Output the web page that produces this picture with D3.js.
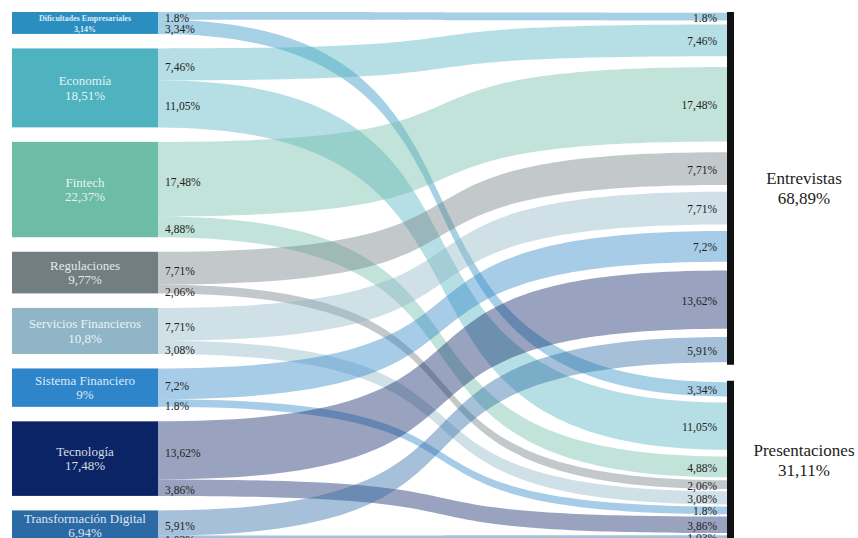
<!DOCTYPE html>
<html>
<head>
<meta charset="utf-8">
<script src="https://cdn.jsdelivr.net/npm/d3@7"></script>
<style>
  html, body { margin: 0; padding: 0; background: #fff; overflow: hidden; }
  svg { display: block; }
  text { font-family: "Liberation Serif", "Times New Roman", serif; }
</style>
</head>
<body>
<svg id="chart" width="858" height="538"></svg>
<script>
// Source categories (left column)
const categories = [
  "Dificultades Empresariales", "Economía", "Fintech", "Regulaciones",
  "Servicios Financieros", "Sistema Financiero", "Tecnología", "Transformación Digital"
];
const categoryShares = [3.14, 18.51, 22.37, 9.77, 10.8, 9, 17.48, 6.94];
const categoryColors = ["#2b8ec1", "#4fb3bf", "#6dbca6", "#717f83", "#8fb5c6", "#2e85c9", "#0b2466", "#2c6aa5"];

// Destination nodes (right column)
const targets = ["Entrevistas", "Presentaciones"];
const targetShares = [68.89, 31.11];

// Flow values per category, one array per destination
const entrevistas    = [1.8, 7.46, 17.48, 7.71, 7.71, 7.2, 13.62, 5.91];
const presentaciones = [3.34, 11.05, 4.88, 2.06, 3.08, 1.8, 3.86, 1.03];

const flows = [entrevistas, presentaciones];

const fmt = v => (v === 1.8 ? "1.8" : String(v).replace(".", ",")) + "%";
const serif = "'Liberation Serif', 'Times New Roman', serif";

const svg = d3.select("#chart");

const plotTop = 12, plotBottom = 540, H = plotBottom - plotTop;
const leftGap = 14.5, rightGap = 16;
const srcX0 = 12, srcX1 = 158, tgtX0 = 727, tgtX1 = 734;

const catTotals = categories.map((_, i) => d3.sum(flows, f => f[i]));
const total = d3.sum(catTotals);

// vertical scales: left column carries the link thickness, right column spreads slots
const yL = d3.scaleLinear().domain([0, total]).range([0, H - (categories.length - 1) * leftGap]);
const yR = d3.scaleLinear().domain([0, total]).range([0, H - (targets.length - 1) * rightGap]);

// left node positions
const srcNodes = [];
let acc = 0;
categories.forEach((name, i) => {
  const y0 = plotTop + yL(acc) + i * leftGap;
  const y1 = y0 + yL(catTotals[i]);
  srcNodes.push({ name, share: categoryShares[i], color: categoryColors[i], y0, y1 });
  acc += catTotals[i];
});

// right node positions
const tgtNodes = [];
acc = 0;
targets.forEach((name, j) => {
  const sum = d3.sum(flows[j]);
  const y0 = plotTop + yR(acc) + j * rightGap;
  tgtNodes.push({ name, share: targetShares[j], y0, y1: y0 + yR(sum) });
  acc += sum;
});

// links: stacked inside the source node, centred in a slot of the target node
const links = [];
categories.forEach((_, i) => {
  let off = srcNodes[i].y0;
  flows.forEach((f, j) => {
    const v = f[i];
    const w = yL(v);
    const sy0 = off, sy1 = off + w;
    off += w;
    const slotStart = tgtNodes[j].y0 + yR(d3.sum(f.slice(0, i)));
    const mid = slotStart + yR(v) / 2;
    links.push({ i, j, v, sy0, sy1, ty0: mid - w / 2, ty1: mid + w / 2, color: categoryColors[i] });
  });
});

function band(d) {
  const dx = tgtX0 - srcX1;
  const c1 = srcX1 + dx * 0.7, c2 = srcX1 + dx * 0.3;
  const p = d3.path();
  p.moveTo(srcX1, d.sy0);
  p.bezierCurveTo(c1, d.sy0, c2, d.ty0, tgtX0, d.ty0);
  p.lineTo(tgtX0, d.ty1);
  p.bezierCurveTo(c2, d.ty1, c1, d.sy1, srcX1, d.sy1);
  p.closePath();
  return p.toString();
}

svg.append("g")
  .selectAll("path")
  .data(links)
  .join("path")
  .attr("d", band)
  .attr("fill", d => d.color)
  .attr("fill-opacity", 0.42);

// left nodes
const sg = svg.append("g").selectAll("g").data(srcNodes).join("g");
sg.append("rect")
  .attr("x", srcX0).attr("y", d => d.y0)
  .attr("width", srcX1 - srcX0).attr("height", d => d.y1 - d.y0)
  .attr("fill", d => d.color);

sg.each(function (d) {
  const g = d3.select(this);
  const cx = (srcX0 + srcX1) / 2, cy = (d.y0 + d.y1) / 2;
  const small = (d.y1 - d.y0) < 25;
  const fs = small ? 8 : 13;
  g.append("text")
    .attr("x", cx).attr("y", small ? cy - 2.3 : cy - 2.5)
    .attr("text-anchor", "middle")
    .attr("font-family", serif)
    .attr("font-size", fs)
    .attr("font-weight", small ? "bold" : "normal")
    .attr("fill", "#fff").attr("fill-opacity", 0.85)
    .text(d.name);
  g.append("text")
    .attr("x", cx).attr("y", small ? cy + 8.7 : cy + 11.8)
    .attr("text-anchor", "middle")
    .attr("font-family", serif)
    .attr("font-size", fs)
    .attr("font-weight", small ? "bold" : "normal")
    .attr("fill", "#fff").attr("fill-opacity", 0.85)
    .text(String(d.share).replace(".", ",") + "%");
});

// right nodes
const tg = svg.append("g").selectAll("g").data(tgtNodes).join("g");
tg.append("rect")
  .attr("x", tgtX0).attr("y", d => d.y0)
  .attr("width", tgtX1 - tgtX0).attr("height", d => d.y1 - d.y0)
  .attr("fill", "#111");
tg.append("text")
  .attr("x", 804).attr("y", d => (d.y0 + d.y1) / 2 - 4)
  .attr("text-anchor", "middle").attr("font-family", serif)
  .attr("font-size", 17).attr("fill", "#222")
  .text(d => d.name);
tg.append("text")
  .attr("x", 804).attr("y", d => (d.y0 + d.y1) / 2 + 16)
  .attr("text-anchor", "middle").attr("font-family", serif)
  .attr("font-size", 17).attr("fill", "#222")
  .text(d => String(d.share).replace(".", ",") + "%");

// link value labels
const lg = svg.append("g").attr("font-family", serif).attr("font-size", 11.5).attr("fill", "#222");
lg.selectAll("text.src")
  .data(links).join("text").attr("class", "src")
  .attr("x", 165).attr("y", d => (d.sy0 + d.sy1) / 2 + 2.5)
  .attr("dy", "0.35em")
  .text(d => fmt(d.v));
lg.selectAll("text.tgt")
  .data(links).join("text").attr("class", "tgt")
  .attr("x", 717).attr("y", d => (d.ty0 + d.ty1) / 2 + 1)
  .attr("dy", "0.35em")
  .attr("text-anchor", "end")
  .text(d => fmt(d.v));
</script>
</body>
</html>
